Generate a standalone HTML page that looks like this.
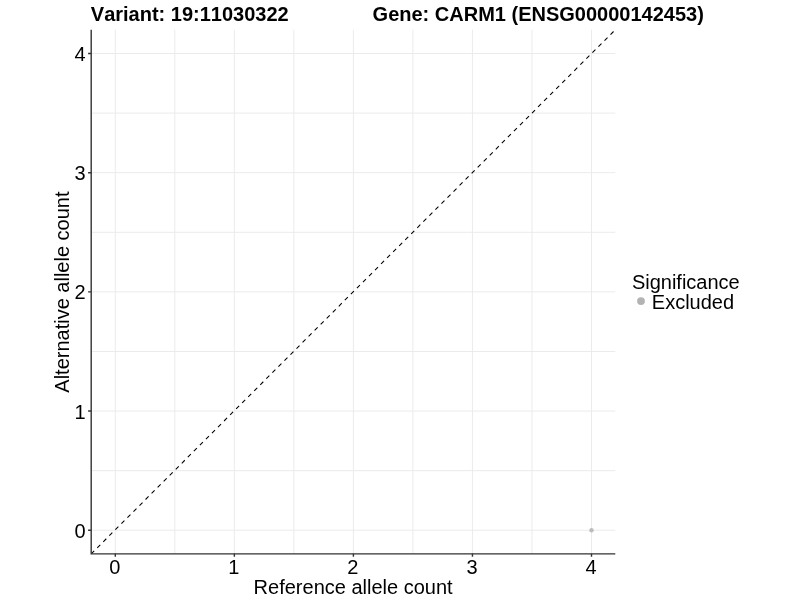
<!DOCTYPE html>
<html><head><meta charset="utf-8">
<style>
html,body{margin:0;padding:0;background:#fff;}
body{width:800px;height:600px;overflow:hidden;font-family:"Liberation Sans",sans-serif;}
svg{display:block;will-change:transform;}
text{font-family:"Liberation Sans",sans-serif;fill:#000;font-size:20px;font-kerning:none;}
</style></head><body>
<svg width="800" height="600" viewBox="0 0 800 600">
<g stroke="#ebebeb" stroke-width="1" fill="none">
<path d="M115.3 29.65V554.09M174.82 29.65V554.09M234.35 29.65V554.09M293.88 29.65V554.09M353.4 29.65V554.09M412.93 29.65V554.09M472.45 29.65V554.09M531.98 29.65V554.09M591.5 29.65V554.09"/>
<path d="M91.49 530.25H615.31M91.49 470.65H615.31M91.49 411.06H615.31M91.49 351.47H615.31M91.49 291.87H615.31M91.49 232.27H615.31M91.49 172.68H615.31M91.49 113.09H615.31M91.49 53.49H615.31"/>
</g>
<line x1="91.2" y1="553.85" x2="615.31" y2="29.74" stroke="#000" stroke-width="1.07" stroke-dasharray="4.27 4.27"/>
<circle cx="591.5" cy="530.25" r="2.2" fill="#b3b3b3" fill-opacity="0.85"/>
<g stroke="#333" stroke-width="1.4" fill="none">
<path d="M91.2 29.65V553.85H615.31" stroke-linejoin="miter" stroke-width="1.4"/>
<path d="M115.3 553.85V556.85M234.35 553.85V556.85M353.4 553.85V556.85M472.45 553.85V556.85M591.5 553.85V556.85"/>
<path d="M88.1 530.25H91.2M88.1 411.06H91.2M88.1 291.87H91.2M88.1 172.68H91.2M88.1 53.49H91.2"/>
</g>
<text transform="translate(114.8,573.8) rotate(0.02)" text-anchor="middle">0</text>
<text transform="translate(233.85,573.8) rotate(0.02)" text-anchor="middle">1</text>
<text transform="translate(352.9,573.8) rotate(0.02)" text-anchor="middle">2</text>
<text transform="translate(471.95,573.8) rotate(0.02)" text-anchor="middle">3</text>
<text transform="translate(591,573.8) rotate(0.02)" text-anchor="middle">4</text>
<text transform="translate(85.5,537.85) rotate(0.02)" text-anchor="end">0</text>
<text transform="translate(85.5,418.66) rotate(0.02)" text-anchor="end">1</text>
<text transform="translate(85.5,299.47) rotate(0.02)" text-anchor="end">2</text>
<text transform="translate(85.5,180.28) rotate(0.02)" text-anchor="end">3</text>
<text transform="translate(85.5,61.09) rotate(0.02)" text-anchor="end">4</text>
<text transform="translate(353.1,593.8) rotate(0.02)" text-anchor="middle">Reference allele count</text>
<text transform="translate(69,292.1) rotate(-89.98)" text-anchor="middle">Alternative allele count</text>
<text transform="translate(90.8,20.6) rotate(0.02)" font-weight="bold">Variant: 19:11030322</text>
<text transform="translate(372.6,20.6) rotate(0.02)" font-weight="bold">Gene: CARM1 (ENSG00000142453)</text>
<text transform="translate(631.9,289) rotate(0.02)">Significance</text>
<circle cx="641" cy="301.1" r="3.9" fill="#b3b3b3"/>
<text transform="translate(651.8,308.6) rotate(0.02)">Excluded</text>
</svg>
</body></html>
